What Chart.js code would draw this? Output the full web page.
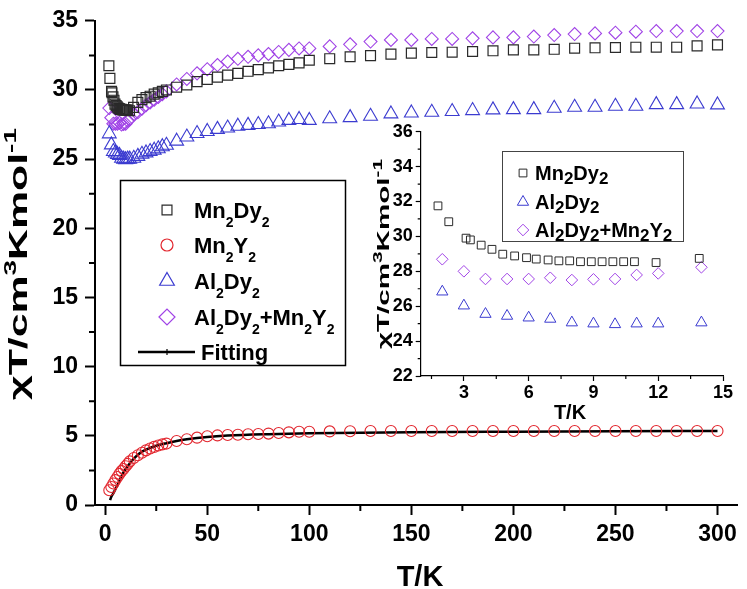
<!DOCTYPE html>
<html>
<head>
<meta charset="utf-8">
<script src="https://cdn.jsdelivr.net/npm/chart.js@4.4.0/dist/chart.umd.min.js"></script>
<style>
  html, body { margin: 0; padding: 0; background: #fff; }
  #wrap { position: relative; width: 747px; height: 589px; }
  #mainChart { position: absolute; left: 0; top: 0; }
  #insetChart { position: absolute; left: 360px; top: 110px; }
</style>
</head>
<body>
<div id="wrap">
  <canvas id="mainChart" width="747" height="589"></canvas>
  <canvas id="insetChart" width="380" height="320"></canvas>
</div>
<script>
// ---- data ----
// Mn2Dy2 (squares)
const mn2dy2T = [1.8, 2.3, 3.1, 3.3, 3.8, 4.3, 4.8, 5.35, 5.9, 6.35, 6.9, 7.4, 7.9, 8.4, 8.9, 9.4, 9.9, 10.4, 10.9, 11.9, 13.9,
  16, 18, 20, 22, 24, 26, 28, 30, 35, 40, 45, 50, 55, 60, 65, 70, 75, 80, 85, 90, 95, 100, 110, 120,
  130, 140, 150, 160, 170, 180, 190, 200, 210, 220, 230, 240, 250, 260, 270, 280, 290, 300];
const mn2dy2Chi = [31.75, 30.84, 29.9, 29.8, 29.5, 29.26, 28.98, 28.88, 28.78, 28.7, 28.65, 28.6, 28.6, 28.55, 28.55, 28.55, 28.55, 28.55, 28.55, 28.5, 28.74,
  29.1, 29.3, 29.45, 29.55, 29.7, 29.8, 29.9, 30.0, 30.2, 30.36, 30.6, 30.76, 30.93, 31.07, 31.2, 31.35, 31.47, 31.6, 31.75, 31.85, 31.96, 32.15, 32.26, 32.4,
  32.48, 32.59, 32.66, 32.71, 32.73, 32.78, 32.83, 32.9, 32.9, 32.94, 33.02, 33.05, 33.07, 33.09, 33.09, 33.09, 33.19, 33.26];

// the other three samples share one temperature list
const sampleT = [2, 3, 4, 5, 6, 7, 8, 9, 10, 11, 12, 14,
  16, 18, 20, 22, 24, 26, 28, 30, 35, 40, 45, 50, 55, 60, 65, 70, 75, 80, 85, 90, 95, 100, 110, 120,
  130, 140, 150, 160, 170, 180, 190, 200, 210, 220, 230, 240, 250, 260, 270, 280, 290, 300];
// Mn2Y2 (circles)
const mn2y2Chi = [1.07, 1.3, 1.55, 1.8, 2.02, 2.25, 2.45, 2.6, 2.8, 2.97, 3.15, 3.4,
  3.6, 3.78, 3.95, 4.08, 4.2, 4.3, 4.38, 4.44, 4.63, 4.75, 4.87, 4.97, 5.03, 5.06, 5.08, 5.11, 5.13, 5.16, 5.2, 5.25, 5.3, 5.3, 5.32, 5.33,
  5.35, 5.35, 5.35, 5.35, 5.35, 5.35, 5.35, 5.35, 5.35, 5.35, 5.35, 5.35, 5.35, 5.35, 5.35, 5.35, 5.35, 5.35];
// Al2Dy2 (triangles)
const al2dy2Chi = [26.83, 26.03, 25.55, 25.44, 25.34, 25.27, 25.06, 25.0, 24.96, 25.0, 25.0, 25.06,
  25.2, 25.35, 25.45, 25.55, 25.65, 25.75, 25.9, 26.0, 26.3, 26.6, 26.85, 27.0, 27.15, 27.25, 27.38, 27.44, 27.5, 27.56, 27.68, 27.8, 27.87, 27.8, 27.92, 28.0,
  28.1, 28.27, 28.34, 28.39, 28.44, 28.51, 28.56, 28.58, 28.58, 28.68, 28.75, 28.75, 28.82, 28.82, 28.94, 28.94, 28.99, 28.92];
// Al2Dy2 + Mn2Y2 (diamonds)
const mixChi = [28.69, 28.0, 27.56, 27.56, 27.56, 27.63, 27.5, 27.54, 27.56, 27.79, 27.88, 28.23,
  28.4, 28.65, 28.9, 29.1, 29.3, 29.5, 29.7, 29.9, 30.4, 30.8, 31.2, 31.5, 31.8, 32.05, 32.25, 32.4, 32.5, 32.6, 32.75, 32.9, 33.0, 33.0, 33.15, 33.3,
  33.5, 33.62, 33.62, 33.69, 33.69, 33.73, 33.8, 33.8, 33.86, 33.97, 34.04, 34.09, 34.14, 34.21, 34.26, 34.26, 34.26, 34.26];
// fitted curve for Mn2Y2
const fitT = [2.4, 3, 4, 5, 6, 8, 10, 12, 14, 17, 20, 25, 30, 35, 40, 50, 60, 80, 100, 150, 200, 250, 300];
const fitChi = [0.35, 0.6, 0.85, 1.15, 1.45, 2.1, 2.6, 3.0, 3.35, 3.75, 4.0, 4.28, 4.47, 4.63, 4.75, 4.92, 5.02, 5.12, 5.18, 5.26, 5.3, 5.33, 5.35];

// tick labels
const mainXTicks = [0, 50, 100, 150, 200, 250, 300];
const mainXMinor = [25, 75, 125, 175, 225, 275];
const mainYTicks = [0, 5, 10, 15, 20, 25, 30, 35];
const mainYMinor = [2.5, 7.5, 12.5, 17.5, 22.5, 27.5, 32.5];
const insetXTicks = [3, 6, 9, 12, 15];
const insetXMinor = [1.5, 4.5, 7.5, 10.5, 13.5];
const insetYTicks = [22, 24, 26, 28, 30, 32, 34, 36];
const insetYMinor = [23, 25, 27, 29, 31, 33, 35];

const FONT = '"Liberation Sans", Arial, sans-serif';
const SQ = '#2a2a2a', CIRC = '#e2262e', TRI = '#3b3bd0', DIA = '#a043e6';

const pts = (t, v) => t.map((x, i) => ({ x: x, y: v[i] }));
const lowOnly = arr => arr.filter(p => p.x <= 15);

// ---- small text helpers (sub/superscripts) ----
function richWidth(ctx, parts, size, small) {
  let w = 0;
  parts.forEach(([t, k]) => {
    ctx.font = `bold ${k ? small : size}px ${FONT}`;
    w += ctx.measureText(t).width;
  });
  return w;
}
function drawRich(ctx, parts, x, y, size, small, shift) {
  let cx = x;
  parts.forEach(([t, k]) => {
    ctx.font = `bold ${k ? small : size}px ${FONT}`;
    const dy = k === 'sub' ? shift : (k === 'sup' ? -shift : 0);
    ctx.fillText(t, cx, y + dy);
    cx += ctx.measureText(t).width;
  });
}

const chiTitle = [['χ'], ['T/cm'], ['3', 'sup'], ['Kmol'], ['-1', 'sup']];

const mainLegend = [
  { style: 'rect', r: 7, color: SQ, y: 210, parts: [['Mn'], ['2', 'sub'], ['Dy'], ['2', 'sub']] },
  { style: 'circle', r: 6, color: CIRC, y: 245, parts: [['Mn'], ['2', 'sub'], ['Y'], ['2', 'sub']] },
  { style: 'triangle', r: 8.5, color: TRI, y: 281, parts: [['Al'], ['2', 'sub'], ['Dy'], ['2', 'sub']] },
  { style: 'rectRot', r: 8, color: DIA, y: 317, parts: [['Al'], ['2', 'sub'], ['Dy'], ['2', 'sub'], ['+Mn'], ['2', 'sub'], ['Y'], ['2', 'sub']] }
];
const insetLegend = [
  { style: 'rect', r: 5.5, color: SQ, y: 63, parts: [['Mn'], ['2', 'sub'], ['Dy'], ['2', 'sub']] },
  { style: 'triangle', r: 6.5, color: TRI, y: 92, parts: [['Al'], ['2', 'sub'], ['Dy'], ['2', 'sub']] },
  { style: 'rectRot', r: 5.8, color: DIA, y: 120, parts: [['Al'], ['2', 'sub'], ['Dy'], ['2', 'sub'], ['+Mn'], ['2', 'sub'], ['Y'], ['2', 'sub']] }
];

function marker(ctx, style, r, color, x, y, lw) {
  ctx.save();
  ctx.strokeStyle = color;
  ctx.fillStyle = 'rgba(0,0,0,0)';
  ctx.lineWidth = lw;
  Chart.helpers.drawPoint(ctx, { pointStyle: style, radius: r, borderWidth: lw, rotation: 0 }, x, y);
  ctx.restore();
}

// minor tick marks placed through the scales
const minorTicks = {
  id: 'minorTicks',
  afterDraw(chart, args, o) {
    const ctx = chart.ctx, xs = chart.scales.x, ys = chart.scales.y;
    ctx.save();
    ctx.strokeStyle = '#000';
    ctx.lineWidth = o.width;
    ctx.beginPath();
    o.x.forEach(v => {
      const px = xs.getPixelForValue(v);
      ctx.moveTo(px, xs.top);
      ctx.lineTo(px, xs.top + o.len);
    });
    o.y.forEach(v => {
      const py = ys.getPixelForValue(v);
      ctx.moveTo(ys.right, py);
      ctx.lineTo(ys.right - o.len, py);
    });
    ctx.stroke();
    ctx.restore();
  }
};

const mainDecor = {
  id: 'mainDecor',
  afterDraw(chart) {
    const ctx = chart.ctx;
    ctx.save();
    ctx.fillStyle = '#000';
    ctx.textAlign = 'left';
    ctx.textBaseline = 'alphabetic';

    // y title, rotated
    const w = richWidth(ctx, chiTitle, 26, 17);
    ctx.save();
    ctx.translate(27, 264);
    ctx.rotate(-Math.PI / 2);
    ctx.scale(272 / w, 1);
    drawRich(ctx, chiTitle, -w / 2, 0, 26, 17, 11);
    ctx.restore();

    // x title
    ctx.font = `bold 29px ${FONT}`;
    ctx.textAlign = 'center';
    ctx.fillText('T/K', 420, 586);
    ctx.textAlign = 'left';

    // legend box
    ctx.strokeStyle = '#000';
    ctx.lineWidth = 1.5;
    ctx.strokeRect(120.5, 180.5, 225, 185);
    mainLegend.forEach(e => {
      marker(ctx, e.style, e.r, e.color, 167, e.y, 1.2);
      ctx.fillStyle = '#000';
      drawRich(ctx, e.parts, 194, e.y + 8, 22, 14, 9);
    });
    // fitting entry
    ctx.strokeStyle = '#000';
    ctx.lineWidth = 2.5;
    ctx.beginPath();
    ctx.moveTo(138, 352);
    ctx.lineTo(195, 352);
    ctx.stroke();
    ctx.lineWidth = 1.2;
    ctx.beginPath();
    ctx.moveTo(167, 349);
    ctx.lineTo(167, 355);
    ctx.stroke();
    ctx.font = `bold 22px ${FONT}`;
    ctx.fillText('Fitting', 201, 360);
    ctx.restore();
  }
};

const insetDecor = {
  id: 'insetDecor',
  afterDraw(chart) {
    const ctx = chart.ctx;
    ctx.save();
    ctx.fillStyle = '#000';
    ctx.textBaseline = 'alphabetic';
    ctx.textAlign = 'left';

    const w = richWidth(ctx, chiTitle, 17, 12);
    ctx.save();
    ctx.translate(29, 144);
    ctx.rotate(-Math.PI / 2);
    ctx.scale(190 / w, 1);
    drawRich(ctx, chiTitle, -w / 2, 0, 17, 12, 7);
    ctx.restore();

    ctx.font = `bold 20px ${FONT}`;
    ctx.textAlign = 'center';
    ctx.fillText('T/K', 210, 309);
    ctx.textAlign = 'left';

    ctx.strokeStyle = '#444';
    ctx.lineWidth = 1;
    ctx.strokeRect(142.5, 41.5, 181, 90);
    insetLegend.forEach(e => {
      marker(ctx, e.style, e.r, e.color, 163, e.y, 1);
      ctx.fillStyle = '#000';
      drawRich(ctx, e.parts, 175, e.y + 7, 20, 17, 4);
    });
    ctx.restore();
  }
};

function axis(min, max, tickVals, fitKey, fitVal, tickLen, pad, lw, fontSize) {
  return {
    type: 'linear', min: min, max: max,
    afterBuildTicks: s => { s.ticks = tickVals.map(v => ({ value: v })); },
    afterFit: s => { s[fitKey] = fitVal; },
    grid: { drawOnChartArea: false, drawTicks: true, tickLength: tickLen, tickWidth: lw, tickColor: '#000' },
    border: { display: true, color: '#000', width: lw },
    ticks: { padding: pad, color: '#000', autoSkip: false, maxRotation: 0, font: { family: FONT, size: fontSize, weight: 'bold' } }
  };
}

function scatterSet(data, style, r, color, lw) {
  return {
    type: 'scatter', data: data, showLine: false, clip: false,
    pointStyle: style, pointRadius: r, pointBorderWidth: lw,
    pointBorderColor: color, pointBackgroundColor: 'rgba(0,0,0,0)'
  };
}

new Chart(document.getElementById('mainChart'), {
  type: 'scatter',
  data: {
    datasets: [
      scatterSet(pts(mn2dy2T, mn2dy2Chi), 'rect', 7, SQ, 1.2),
      scatterSet(pts(sampleT, mn2y2Chi), 'circle', 5.5, CIRC, 1.1),
      scatterSet(pts(sampleT, al2dy2Chi), 'triangle', 8, TRI, 1.1),
      scatterSet(pts(sampleT, mixChi), 'rectRot', 6.5, DIA, 1.1),
      {
        type: 'line', data: pts(fitT, fitChi), showLine: true, clip: false,
        borderColor: '#000', borderWidth: 2.5, pointRadius: 0,
        cubicInterpolationMode: 'monotone', fill: false
      }
    ]
  },
  options: {
    responsive: false, animation: false, events: [],
    layout: { padding: { top: 14, right: 5, left: 0, bottom: 0 } },
    plugins: {
      legend: { display: false }, tooltip: { enabled: false },
      minorTicks: { x: mainXMinor, y: mainYMinor, len: 6, width: 2 }
    },
    scales: {
      x: axis(-5, 310, mainXTicks, 'height', 84, 10, 6, 2, 23),
      y: axis(0, 35, mainYTicks, 'width', 95, 10, 7, 2, 23)
    }
  },
  plugins: [minorTicks, mainDecor]
});

new Chart(document.getElementById('insetChart'), {
  type: 'scatter',
  data: {
    datasets: [
      scatterSet(lowOnly(pts(mn2dy2T, mn2dy2Chi)), 'rect', 5.5, SQ, 1),
      scatterSet(lowOnly(pts(sampleT, al2dy2Chi)), 'triangle', 6.5, TRI, 1),
      scatterSet(lowOnly(pts(sampleT, mixChi)), 'rectRot', 5.8, DIA, 1)
    ]
  },
  options: {
    responsive: false, animation: false, events: [],
    layout: { padding: { top: 21.7, right: 17, left: 0, bottom: 0 } },
    plugins: {
      legend: { display: false }, tooltip: { enabled: false },
      minorTicks: { x: insetXMinor, y: insetYMinor, len: 3, width: 1.2 }
    },
    scales: {
      x: axis(1, 15, insetXTicks, 'height', 54, 5, 1, 1.2, 18),
      y: axis(22, 36, insetYTicks, 'width', 60.7, 5, 3, 1.2, 18)
    }
  },
  plugins: [minorTicks, insetDecor]
});
</script>
</body>
</html>
